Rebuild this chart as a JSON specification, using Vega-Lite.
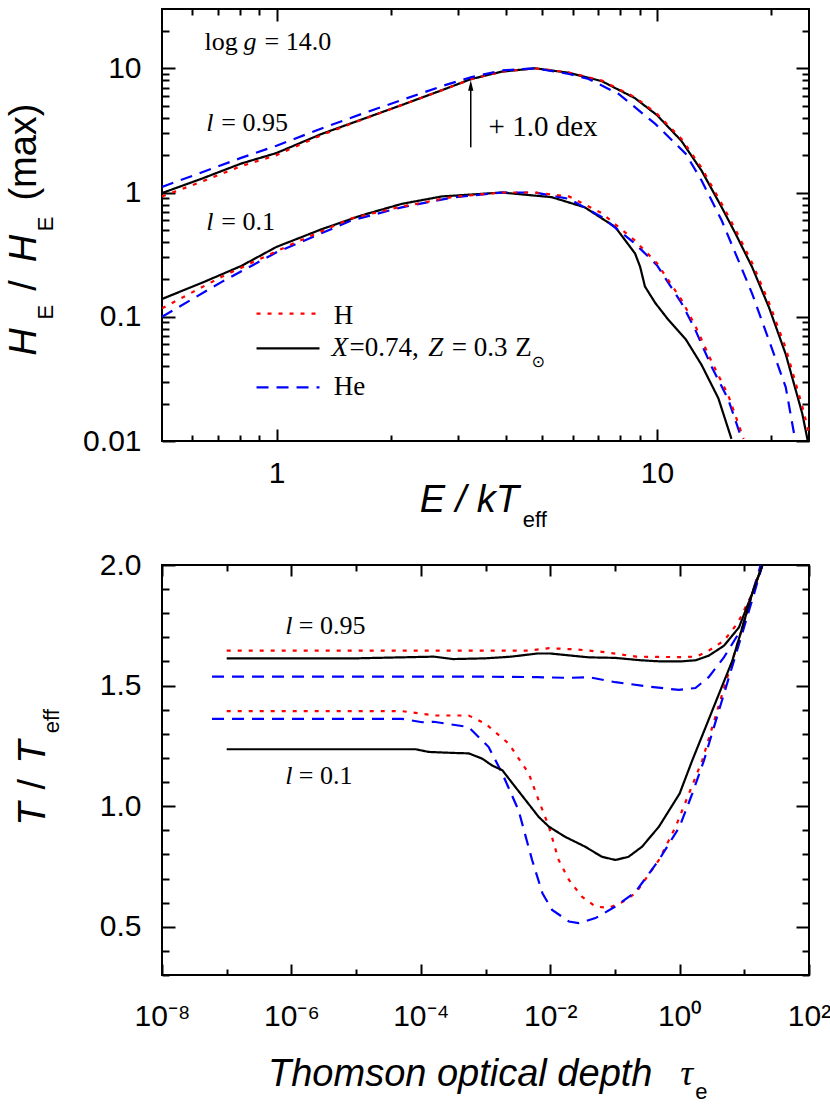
{
  "$schema": "https://vega.github.io/schema/vega-lite/v6.json",
  "padding": {"left": 5, "top": 7, "right": 5, "bottom": 5},
  "background": "white",
  "config": {
    "view": {"stroke": "black", "strokeWidth": 2},
    "axis": {"domain": false, "grid": false, "labelFont": "Liberation Sans", "labelFontSize": 30, "labelColor": "black", "tickColor": "black", "tickWidth": 2, "labelFlush": false, "labelOverlap": false}
  },
  "datasets": {
    "top": [
      {"x": 0.5, "y": 0.99, "s": "X", "l": "a"}, {"x": 0.635, "y": 1.29, "s": "X", "l": "a"}, {"x": 0.807, "y": 1.71, "s": "X", "l": "a"}, {"x": 1.0, "y": 2.08, "s": "X", "l": "a"}, {"x": 1.313, "y": 2.96, "s": "X", "l": "a"}, {"x": 1.674, "y": 3.87, "s": "X", "l": "a"}, {"x": 2.133, "y": 5.06, "s": "X", "l": "a"}, {"x": 2.72, "y": 6.66, "s": "X", "l": "a"}, {"x": 3.24, "y": 8.17, "s": "X", "l": "a"}, {"x": 3.91, "y": 9.4, "s": "X", "l": "a"}, {"x": 4.78, "y": 10.0, "s": "X", "l": "a"}, {"x": 5.87, "y": 9.2, "s": "X", "l": "a"}, {"x": 7.17, "y": 7.86, "s": "X", "l": "a"}, {"x": 8.75, "y": 5.75, "s": "X", "l": "a"}, {"x": 10.0, "y": 4.2, "s": "X", "l": "a"}, {"x": 11.6, "y": 2.6, "s": "X", "l": "a"}, {"x": 13.1, "y": 1.5, "s": "X", "l": "a"}, {"x": 14.8, "y": 0.76, "s": "X", "l": "a"}, {"x": 16.1, "y": 0.465, "s": "X", "l": "a"}, {"x": 17.8, "y": 0.25, "s": "X", "l": "a"}, {"x": 19.7, "y": 0.119, "s": "X", "l": "a"}, {"x": 21.8, "y": 0.05, "s": "X", "l": "a"}, {"x": 24.1, "y": 0.0166, "s": "X", "l": "a"}, {"x": 24.9, "y": 0.0101, "s": "X", "l": "a"},
      {"x": 0.5, "y": 0.93, "s": "H", "l": "a"}, {"x": 0.635, "y": 1.22, "s": "H", "l": "a"}, {"x": 0.807, "y": 1.63, "s": "H", "l": "a"}, {"x": 1.0, "y": 2.0, "s": "H", "l": "a"}, {"x": 1.313, "y": 2.9, "s": "H", "l": "a"}, {"x": 1.674, "y": 3.85, "s": "H", "l": "a"}, {"x": 2.133, "y": 5.05, "s": "H", "l": "a"}, {"x": 2.72, "y": 6.65, "s": "H", "l": "a"}, {"x": 3.24, "y": 8.15, "s": "H", "l": "a"}, {"x": 3.91, "y": 9.4, "s": "H", "l": "a"}, {"x": 4.78, "y": 10.0, "s": "H", "l": "a"}, {"x": 5.87, "y": 9.25, "s": "H", "l": "a"}, {"x": 7.17, "y": 7.95, "s": "H", "l": "a"}, {"x": 8.75, "y": 5.85, "s": "H", "l": "a"}, {"x": 10.0, "y": 4.3, "s": "H", "l": "a"}, {"x": 11.6, "y": 2.7, "s": "H", "l": "a"}, {"x": 13.1, "y": 1.58, "s": "H", "l": "a"}, {"x": 14.8, "y": 0.81, "s": "H", "l": "a"}, {"x": 16.1, "y": 0.5, "s": "H", "l": "a"}, {"x": 17.8, "y": 0.27, "s": "H", "l": "a"}, {"x": 19.7, "y": 0.13, "s": "H", "l": "a"}, {"x": 21.8, "y": 0.056, "s": "H", "l": "a"}, {"x": 24.1, "y": 0.019, "s": "H", "l": "a"}, {"x": 25.1, "y": 0.0115, "s": "H", "l": "a"},
      {"x": 0.5, "y": 1.11, "s": "He", "l": "a"}, {"x": 0.635, "y": 1.45, "s": "He", "l": "a"}, {"x": 0.807, "y": 1.9, "s": "He", "l": "a"}, {"x": 1.0, "y": 2.38, "s": "He", "l": "a"}, {"x": 1.313, "y": 3.28, "s": "He", "l": "a"}, {"x": 1.674, "y": 4.29, "s": "He", "l": "a"}, {"x": 2.133, "y": 5.55, "s": "He", "l": "a"}, {"x": 2.72, "y": 7.18, "s": "He", "l": "a"}, {"x": 3.24, "y": 8.45, "s": "He", "l": "a"}, {"x": 3.91, "y": 9.6, "s": "He", "l": "a"}, {"x": 4.78, "y": 10.0, "s": "He", "l": "a"}, {"x": 5.87, "y": 9.0, "s": "He", "l": "a"}, {"x": 6.61, "y": 8.2, "s": "He", "l": "a"}, {"x": 7.93, "y": 6.22, "s": "He", "l": "a"}, {"x": 9.9, "y": 3.57, "s": "He", "l": "a"}, {"x": 11.9, "y": 2.05, "s": "He", "l": "a"}, {"x": 13.1, "y": 1.25, "s": "He", "l": "a"}, {"x": 14.8, "y": 0.595, "s": "He", "l": "a"}, {"x": 16.1, "y": 0.321, "s": "He", "l": "a"}, {"x": 17.8, "y": 0.153, "s": "He", "l": "a"}, {"x": 19.7, "y": 0.0645, "s": "He", "l": "a"}, {"x": 21.8, "y": 0.0272, "s": "He", "l": "a"}, {"x": 23.1, "y": 0.0101, "s": "He", "l": "a"},
      {"x": 0.5, "y": 0.139, "s": "X", "l": "b"}, {"x": 0.635, "y": 0.187, "s": "X", "l": "b"}, {"x": 0.807, "y": 0.256, "s": "X", "l": "b"}, {"x": 1.0, "y": 0.365, "s": "X", "l": "b"}, {"x": 1.313, "y": 0.506, "s": "X", "l": "b"}, {"x": 1.674, "y": 0.655, "s": "X", "l": "b"}, {"x": 2.133, "y": 0.81, "s": "X", "l": "b"}, {"x": 2.72, "y": 0.93, "s": "X", "l": "b"}, {"x": 3.91, "y": 1.0, "s": "X", "l": "b"}, {"x": 5.29, "y": 0.917, "s": "X", "l": "b"}, {"x": 6.46, "y": 0.76, "s": "X", "l": "b"}, {"x": 7.77, "y": 0.527, "s": "X", "l": "b"}, {"x": 8.76, "y": 0.323, "s": "X", "l": "b"}, {"x": 9.03, "y": 0.253, "s": "X", "l": "b"}, {"x": 9.3, "y": 0.175, "s": "X", "l": "b"}, {"x": 9.9, "y": 0.129, "s": "X", "l": "b"}, {"x": 10.7, "y": 0.095, "s": "X", "l": "b"}, {"x": 11.9, "y": 0.066, "s": "X", "l": "b"}, {"x": 13.1, "y": 0.041, "s": "X", "l": "b"}, {"x": 14.5, "y": 0.0221, "s": "X", "l": "b"}, {"x": 15.7, "y": 0.0104, "s": "X", "l": "b"},
      {"x": 0.5, "y": 0.1, "s": "He", "l": "b"}, {"x": 0.716, "y": 0.19, "s": "He", "l": "b"}, {"x": 1.0, "y": 0.33, "s": "He", "l": "b"}, {"x": 1.575, "y": 0.596, "s": "He", "l": "b"}, {"x": 2.133, "y": 0.76, "s": "He", "l": "b"}, {"x": 2.89, "y": 0.91, "s": "He", "l": "b"}, {"x": 3.91, "y": 1.0, "s": "He", "l": "b"}, {"x": 4.78, "y": 1.0, "s": "He", "l": "b"}, {"x": 5.87, "y": 0.89, "s": "He", "l": "b"}, {"x": 7.17, "y": 0.634, "s": "He", "l": "b"}, {"x": 8.76, "y": 0.388, "s": "He", "l": "b"}, {"x": 10.0, "y": 0.26, "s": "He", "l": "b"}, {"x": 11.6, "y": 0.129, "s": "He", "l": "b"}, {"x": 12.6, "y": 0.079, "s": "He", "l": "b"}, {"x": 13.9, "y": 0.04, "s": "He", "l": "b"}, {"x": 15.4, "y": 0.0216, "s": "He", "l": "b"}, {"x": 16.7, "y": 0.0104, "s": "He", "l": "b"},
      {"x": 0.5, "y": 0.117, "s": "H", "l": "b"}, {"x": 0.716, "y": 0.209, "s": "H", "l": "b"}, {"x": 1.095, "y": 0.383, "s": "H", "l": "b"}, {"x": 1.575, "y": 0.62, "s": "H", "l": "b"}, {"x": 2.133, "y": 0.77, "s": "H", "l": "b"}, {"x": 2.89, "y": 0.92, "s": "H", "l": "b"}, {"x": 3.91, "y": 1.0, "s": "H", "l": "b"}, {"x": 4.78, "y": 1.0, "s": "H", "l": "b"}, {"x": 5.87, "y": 0.93, "s": "H", "l": "b"}, {"x": 7.17, "y": 0.68, "s": "H", "l": "b"}, {"x": 8.76, "y": 0.41, "s": "H", "l": "b"}, {"x": 10.0, "y": 0.27, "s": "H", "l": "b"}, {"x": 11.6, "y": 0.137, "s": "H", "l": "b"}, {"x": 12.6, "y": 0.085, "s": "H", "l": "b"}, {"x": 13.9, "y": 0.044, "s": "H", "l": "b"}, {"x": 15.4, "y": 0.0233, "s": "H", "l": "b"}, {"x": 16.9, "y": 0.0104, "s": "H", "l": "b"}
    ],
    "bot": [
      {"x": 1e-7, "y": 1.645, "s": "H", "l": "a"}, {"x": 1e-5, "y": 1.645, "s": "H", "l": "a"}, {"x": 1e-3, "y": 1.645, "s": "H", "l": "a"}, {"x": 4.68e-3, "y": 1.645, "s": "H", "l": "a"}, {"x": 9.55e-3, "y": 1.655, "s": "H", "l": "a"}, {"x": 0.0251, "y": 1.65, "s": "H", "l": "a"}, {"x": 0.0631, "y": 1.64, "s": "H", "l": "a"}, {"x": 0.214, "y": 1.62, "s": "H", "l": "a"}, {"x": 1.0, "y": 1.618, "s": "H", "l": "a"}, {"x": 1.82, "y": 1.62, "s": "H", "l": "a"}, {"x": 2.818, "y": 1.645, "s": "H", "l": "a"}, {"x": 4.842, "y": 1.686, "s": "H", "l": "a"}, {"x": 7.943, "y": 1.76, "s": "H", "l": "a"}, {"x": 13.18, "y": 1.88, "s": "H", "l": "a"}, {"x": 19.05, "y": 2.0, "s": "H", "l": "a"},
      {"x": 1e-7, "y": 1.613, "s": "X", "l": "a"}, {"x": 1e-5, "y": 1.613, "s": "X", "l": "a"}, {"x": 1.58e-4, "y": 1.62, "s": "X", "l": "a"}, {"x": 3.16e-4, "y": 1.61, "s": "X", "l": "a"}, {"x": 1e-3, "y": 1.613, "s": "X", "l": "a"}, {"x": 2.51e-3, "y": 1.62, "s": "X", "l": "a"}, {"x": 6.31e-3, "y": 1.633, "s": "X", "l": "a"}, {"x": 0.01, "y": 1.633, "s": "X", "l": "a"}, {"x": 0.02, "y": 1.625, "s": "X", "l": "a"}, {"x": 0.0398, "y": 1.617, "s": "X", "l": "a"}, {"x": 0.1, "y": 1.615, "s": "X", "l": "a"}, {"x": 0.251, "y": 1.605, "s": "X", "l": "a"}, {"x": 0.525, "y": 1.6, "s": "X", "l": "a"}, {"x": 1.0, "y": 1.6, "s": "X", "l": "a"}, {"x": 1.778, "y": 1.605, "s": "X", "l": "a"}, {"x": 2.818, "y": 1.624, "s": "X", "l": "a"}, {"x": 4.842, "y": 1.665, "s": "X", "l": "a"}, {"x": 8.26, "y": 1.741, "s": "X", "l": "a"}, {"x": 13.18, "y": 1.88, "s": "X", "l": "a"}, {"x": 19.05, "y": 2.0, "s": "X", "l": "a"},
      {"x": 5.93e-8, "y": 1.537, "s": "He", "l": "a"}, {"x": 1e-5, "y": 1.537, "s": "He", "l": "a"}, {"x": 1e-3, "y": 1.537, "s": "He", "l": "a"}, {"x": 6.31e-3, "y": 1.535, "s": "He", "l": "a"}, {"x": 0.0195, "y": 1.532, "s": "He", "l": "a"}, {"x": 0.0398, "y": 1.535, "s": "He", "l": "a"}, {"x": 0.102, "y": 1.514, "s": "He", "l": "a"}, {"x": 0.339, "y": 1.496, "s": "He", "l": "a"}, {"x": 0.977, "y": 1.482, "s": "He", "l": "a"}, {"x": 1.758, "y": 1.49, "s": "He", "l": "a"}, {"x": 2.818, "y": 1.535, "s": "He", "l": "a"}, {"x": 4.842, "y": 1.617, "s": "He", "l": "a"}, {"x": 9.333, "y": 1.741, "s": "He", "l": "a"}, {"x": 13.18, "y": 1.88, "s": "He", "l": "a"}, {"x": 17.91, "y": 2.0, "s": "He", "l": "a"},
      {"x": 1e-7, "y": 1.394, "s": "H", "l": "b"}, {"x": 1e-5, "y": 1.394, "s": "H", "l": "b"}, {"x": 5.13e-5, "y": 1.394, "s": "H", "l": "b"}, {"x": 1.7e-4, "y": 1.376, "s": "H", "l": "b"}, {"x": 5.5e-4, "y": 1.376, "s": "H", "l": "b"}, {"x": 1e-3, "y": 1.342, "s": "H", "l": "b"}, {"x": 2.29e-3, "y": 1.259, "s": "H", "l": "b"}, {"x": 4.68e-3, "y": 1.135, "s": "H", "l": "b"}, {"x": 6.61e-3, "y": 1.025, "s": "H", "l": "b"}, {"x": 9.55e-3, "y": 0.915, "s": "H", "l": "b"}, {"x": 0.0135, "y": 0.777, "s": "H", "l": "b"}, {"x": 0.0195, "y": 0.694, "s": "H", "l": "b"}, {"x": 0.0309, "y": 0.625, "s": "H", "l": "b"}, {"x": 0.0501, "y": 0.584, "s": "H", "l": "b"}, {"x": 0.0794, "y": 0.578, "s": "H", "l": "b"}, {"x": 0.126, "y": 0.6, "s": "H", "l": "b"}, {"x": 0.209, "y": 0.639, "s": "H", "l": "b"}, {"x": 0.479, "y": 0.777, "s": "H", "l": "b"}, {"x": 0.871, "y": 0.915, "s": "H", "l": "b"}, {"x": 1.393, "y": 1.052, "s": "H", "l": "b"}, {"x": 2.239, "y": 1.19, "s": "H", "l": "b"}, {"x": 3.199, "y": 1.328, "s": "H", "l": "b"}, {"x": 4.571, "y": 1.466, "s": "H", "l": "b"}, {"x": 6.531, "y": 1.603, "s": "H", "l": "b"}, {"x": 9.333, "y": 1.741, "s": "H", "l": "b"}, {"x": 13.18, "y": 1.88, "s": "H", "l": "b"}, {"x": 19.05, "y": 2.0, "s": "H", "l": "b"},
      {"x": 5.93e-8, "y": 1.362, "s": "He", "l": "b"}, {"x": 1e-5, "y": 1.362, "s": "He", "l": "b"}, {"x": 5.13e-5, "y": 1.362, "s": "He", "l": "b"}, {"x": 1.05e-4, "y": 1.348, "s": "He", "l": "b"}, {"x": 1.58e-4, "y": 1.35, "s": "He", "l": "b"}, {"x": 5.5e-4, "y": 1.328, "s": "He", "l": "b"}, {"x": 1.12e-3, "y": 1.245, "s": "He", "l": "b"}, {"x": 1.82e-3, "y": 1.135, "s": "He", "l": "b"}, {"x": 3.24e-3, "y": 0.983, "s": "He", "l": "b"}, {"x": 5.25e-3, "y": 0.777, "s": "He", "l": "b"}, {"x": 7.59e-3, "y": 0.639, "s": "He", "l": "b"}, {"x": 0.0107, "y": 0.57, "s": "He", "l": "b"}, {"x": 0.0195, "y": 0.522, "s": "He", "l": "b"}, {"x": 0.0275, "y": 0.515, "s": "He", "l": "b"}, {"x": 0.0501, "y": 0.536, "s": "He", "l": "b"}, {"x": 0.102, "y": 0.584, "s": "He", "l": "b"}, {"x": 0.209, "y": 0.645, "s": "He", "l": "b"}, {"x": 0.479, "y": 0.777, "s": "He", "l": "b"}, {"x": 1.0, "y": 0.915, "s": "He", "l": "b"}, {"x": 1.57, "y": 1.052, "s": "He", "l": "b"}, {"x": 2.382, "y": 1.19, "s": "He", "l": "b"}, {"x": 3.396, "y": 1.328, "s": "He", "l": "b"}, {"x": 4.853, "y": 1.466, "s": "He", "l": "b"}, {"x": 6.918, "y": 1.603, "s": "He", "l": "b"}, {"x": 9.886, "y": 1.741, "s": "He", "l": "b"}, {"x": 14.13, "y": 1.88, "s": "He", "l": "b"}, {"x": 19.05, "y": 2.0, "s": "He", "l": "b"},
      {"x": 1e-7, "y": 1.236, "s": "X", "l": "b"}, {"x": 1e-5, "y": 1.236, "s": "X", "l": "b"}, {"x": 8.32e-5, "y": 1.236, "s": "X", "l": "b"}, {"x": 1.32e-4, "y": 1.225, "s": "X", "l": "b"}, {"x": 3.02e-4, "y": 1.221, "s": "X", "l": "b"}, {"x": 5.5e-4, "y": 1.219, "s": "X", "l": "b"}, {"x": 8.91e-4, "y": 1.197, "s": "X", "l": "b"}, {"x": 1.26e-3, "y": 1.169, "s": "X", "l": "b"}, {"x": 1.82e-3, "y": 1.149, "s": "X", "l": "b"}, {"x": 2.88e-3, "y": 1.08, "s": "X", "l": "b"}, {"x": 4.17e-3, "y": 1.025, "s": "X", "l": "b"}, {"x": 6.61e-3, "y": 0.956, "s": "X", "l": "b"}, {"x": 9.55e-3, "y": 0.915, "s": "X", "l": "b"}, {"x": 0.017, "y": 0.873, "s": "X", "l": "b"}, {"x": 0.0347, "y": 0.832, "s": "X", "l": "b"}, {"x": 0.0631, "y": 0.79, "s": "X", "l": "b"}, {"x": 0.102, "y": 0.777, "s": "X", "l": "b"}, {"x": 0.162, "y": 0.79, "s": "X", "l": "b"}, {"x": 0.263, "y": 0.832, "s": "X", "l": "b"}, {"x": 0.479, "y": 0.915, "s": "X", "l": "b"}, {"x": 1.0, "y": 1.052, "s": "X", "l": "b"}, {"x": 1.57, "y": 1.19, "s": "X", "l": "b"}, {"x": 2.529, "y": 1.328, "s": "X", "l": "b"}, {"x": 4.064, "y": 1.466, "s": "X", "l": "b"}, {"x": 6.531, "y": 1.603, "s": "X", "l": "b"}, {"x": 9.333, "y": 1.741, "s": "X", "l": "b"}, {"x": 13.18, "y": 1.88, "s": "X", "l": "b"}, {"x": 19.05, "y": 2.0, "s": "X", "l": "b"}
    ],
    "topleg": [
      {"x": 0.886, "y": 0.106, "s": "H"}, {"x": 1.297, "y": 0.106, "s": "H"},
      {"x": 0.886, "y": 0.0556, "s": "X"}, {"x": 1.297, "y": 0.0556, "s": "X"},
      {"x": 0.886, "y": 0.027, "s": "He"}, {"x": 1.297, "y": 0.027, "s": "He"}
    ],
    "arrow": [{"x": 3.24, "y": 2.31}, {"x": 3.24, "y": 6.9}],
    "arrowhead": [{"x": 3.24, "y": 7.26}],
    "t_serif": [{"x": 0.647, "y": 14.06, "t": "log"}, {"x": 0.93, "y": 14.06, "t": "= 14.0"}, {"x": 0.716, "y": 3.15, "t": "= 0.95"}, {"x": 0.716, "y": 0.495, "t": "= 0.1"}],
    "t_serif_it": [{"x": 0.819, "y": 14.06, "t": "g"}, {"x": 0.654, "y": 3.15, "t": "l"}, {"x": 0.654, "y": 0.495, "t": "l"}],
    "t_dex": [{"x": 3.61, "y": 2.875, "t": "+ 1.0 dex"}],
    "t_leg": [{"x": 1.413, "y": 0.0878, "t": "H"}, {"x": 1.556, "y": 0.048, "t": "=0.74,"}, {"x": 2.888, "y": 0.048, "t": "= 0.3"}, {"x": 4.24, "y": 0.048, "t": "Z"}, {"x": 1.413, "y": 0.0233, "t": "He"}],
    "t_leg_it": [{"x": 1.395, "y": 0.048, "t": "X"}, {"x": 2.507, "y": 0.048, "t": "Z"}],
    "t_leg_sub": [{"x": 4.68, "y": 0.0392, "t": "⊙"}],
    "t_ytit_it": [{"x": 0.2336, "y": 0.0627, "t": "H"}, {"x": 0.2336, "y": 0.354, "t": "H"}],
    "t_ytit": [{"x": 0.2336, "y": 0.1786, "t": "/"}, {"x": 0.2336, "y": 2.118, "t": "(max)"}],
    "t_ytit_sub": [{"x": 0.2588, "y": 0.109, "t": "E"}, {"x": 0.2588, "y": 0.558, "t": "E"}],
    "t_xtit": [{"x": 2.378, "y": 0.002665, "t": "E / kT"}],
    "t_xtit_sub": [{"x": 4.441, "y": 0.002018, "t": "eff"}],
    "b_l_it": [{"x": 8.07e-7, "y": 1.715, "t": "l"}, {"x": 8.07e-7, "y": 1.091, "t": "l"}],
    "b_l": [{"x": 1.3e-6, "y": 1.715, "t": "= 0.95"}, {"x": 1.3e-6, "y": 1.091, "t": "= 0.1"}],
    "b_ytit_it": [{"x": 1.55e-10, "y": 0.967, "t": "T"}, {"x": 1.55e-10, "y": 1.224, "t": "T"}],
    "b_ytit": [{"x": 1.55e-10, "y": 1.091, "t": "/"}],
    "b_ytit_sub": [{"x": 2.55e-10, "y": 1.352, "t": "eff"}],
    "b_xtit": [{"x": 4.35e-7, "y": -0.16, "t": "Thomson optical depth"}],
    "b_tau": [{"x": 1.023, "y": -0.155, "t": "τ"}],
    "b_tau_sub": [{"x": 1.746, "y": -0.215, "t": "e"}]
  },
  "spacing": 124,
  "bounds": "flush",
  "vconcat": [
    {
      "width": 647,
      "height": 432,
      "encoding": {
        "x": {"field": "x", "type": "quantitative", "scale": {"type": "log", "domain": [0.5, 25.1], "nice": false}, "axis": null},
        "y": {"field": "y", "type": "quantitative", "scale": {"type": "log", "domain": [0.01, 30], "nice": false}, "axis": null}
      },
      "layer": [
        {
          "data": {"name": "top"},
          "mark": {"type": "line", "clip": true, "strokeWidth": 2.2},
          "encoding": {
            "x": {"field": "x", "type": "quantitative", "title": null, "scale": {"type": "log", "domain": [0.5, 25.1], "nice": false},
              "axis": {"orient": "bottom", "values": [0.6, 0.7, 0.8, 0.9, 1, 2, 3, 4, 5, 6, 7, 8, 9, 10, 20],
                "labelExpr": "datum.value == 1 ? '1' : datum.value == 10 ? '10' : ''",
                "tickSize": {"condition": {"test": "datum.value == 1 || datum.value == 10", "value": -12}, "value": -6},
                "labelPadding": 29}},
            "y": {"field": "y", "type": "quantitative", "title": null, "scale": {"type": "log", "domain": [0.01, 30], "nice": false},
              "axis": {"orient": "left", "values": [0.01, 0.02, 0.03, 0.04, 0.05, 0.06, 0.07, 0.08, 0.09, 0.1, 0.2, 0.3, 0.4, 0.5, 0.6, 0.7, 0.8, 0.9, 1, 2, 3, 4, 5, 6, 7, 8, 9, 10, 20],
                "labelExpr": "datum.value == 0.01 ? '0.01' : datum.value == 0.1 ? '0.1' : datum.value == 1 ? '1' : datum.value == 10 ? '10' : ''",
                "tickSize": {"condition": {"test": "datum.value == 0.01 || datum.value == 0.1 || datum.value == 1 || datum.value == 10", "value": -13}, "value": -7},
                "labelPadding": 34}},
            "color": {"field": "s", "type": "nominal", "scale": {"domain": ["H", "X", "He"], "range": ["#ff0000", "#000000", "#0000ff"]}, "legend": null},
            "strokeDash": {"field": "s", "type": "nominal", "scale": {"domain": ["H", "X", "He"], "range": [[4, 7], [1, 0], [12, 8]]}, "legend": null},
            "detail": {"field": "l", "type": "nominal"}
          }
        },
        {
          "data": {"name": "topleg"},
          "mark": {"type": "line", "strokeWidth": 2.2},
          "encoding": {
            "x": {"field": "x", "type": "quantitative", "title": null, "scale": {"type": "log", "domain": [0.5, 25.1], "nice": false},
              "axis": {"orient": "top", "labels": false, "values": [0.6, 0.7, 0.8, 0.9, 1, 2, 3, 4, 5, 6, 7, 8, 9, 10, 20],
                "tickSize": {"condition": {"test": "datum.value == 1 || datum.value == 10", "value": -12}, "value": -6}}},
            "y": {"field": "y", "type": "quantitative", "title": null, "scale": {"type": "log", "domain": [0.01, 30], "nice": false},
              "axis": {"orient": "right", "labels": false, "values": [0.01, 0.02, 0.03, 0.04, 0.05, 0.06, 0.07, 0.08, 0.09, 0.1, 0.2, 0.3, 0.4, 0.5, 0.6, 0.7, 0.8, 0.9, 1, 2, 3, 4, 5, 6, 7, 8, 9, 10, 20],
                "tickSize": {"condition": {"test": "datum.value == 0.01 || datum.value == 0.1 || datum.value == 1 || datum.value == 10", "value": -13}, "value": -7}}},
            "color": {"field": "s", "type": "nominal", "scale": {"domain": ["H", "X", "He"], "range": ["#ff0000", "#000000", "#0000ff"]}, "legend": null},
            "strokeDash": {"field": "s", "type": "nominal", "scale": {"domain": ["H", "X", "He"], "range": [[4, 7], [1, 0], [12, 8]]}, "legend": null}
          }
        },
        {"data": {"name": "arrow"}, "mark": {"type": "line", "color": "black", "strokeWidth": 1.5}, "encoding": {}},
        {"data": {"name": "arrowhead"}, "mark": {"type": "point", "shape": "M0,-1L0.5,1L-0.5,1Z", "filled": true, "size": 110, "color": "black", "opacity": 1}},
        {"data": {"name": "t_serif"}, "mark": {"type": "text", "font": "Liberation Serif", "fontSize": 26, "align": "left", "baseline": "alphabetic", "color": "black"}, "encoding": {"text": {"field": "t"}}},
        {"data": {"name": "t_serif_it"}, "mark": {"type": "text", "font": "Liberation Serif", "fontSize": 26, "fontStyle": "italic", "align": "left", "baseline": "alphabetic", "color": "black"}, "encoding": {"text": {"field": "t"}}},
        {"data": {"name": "t_dex"}, "mark": {"type": "text", "font": "Liberation Serif", "fontSize": 29, "align": "left", "baseline": "alphabetic", "color": "black"}, "encoding": {"text": {"field": "t"}}},
        {"data": {"name": "t_leg"}, "mark": {"type": "text", "font": "Liberation Serif", "fontSize": 27, "align": "left", "baseline": "alphabetic", "color": "black"}, "encoding": {"text": {"field": "t"}}},
        {"data": {"name": "t_leg_it"}, "mark": {"type": "text", "font": "Liberation Serif", "fontSize": 27, "fontStyle": "italic", "align": "left", "baseline": "alphabetic", "color": "black"}, "encoding": {"text": {"field": "t"}}},
        {"data": {"name": "t_leg_sub"}, "mark": {"type": "text", "font": "DejaVu Sans", "fontSize": 16, "align": "left", "baseline": "alphabetic", "color": "black"}, "encoding": {"text": {"field": "t"}}},
        {"data": {"name": "t_ytit_it"}, "mark": {"type": "text", "font": "Liberation Sans", "fontSize": 38, "fontStyle": "italic", "angle": 270, "align": "center", "baseline": "alphabetic", "color": "black"}, "encoding": {"text": {"field": "t"}}},
        {"data": {"name": "t_ytit"}, "mark": {"type": "text", "font": "Liberation Sans", "fontSize": 38, "angle": 270, "align": "center", "baseline": "alphabetic", "color": "black"}, "encoding": {"text": {"field": "t"}}},
        {"data": {"name": "t_ytit_sub"}, "mark": {"type": "text", "font": "Liberation Sans", "fontSize": 22, "angle": 270, "align": "center", "baseline": "alphabetic", "color": "black"}, "encoding": {"text": {"field": "t"}}},
        {"data": {"name": "t_xtit"}, "mark": {"type": "text", "font": "Liberation Sans", "fontSize": 38, "fontStyle": "italic", "align": "left", "baseline": "alphabetic", "color": "black"}, "encoding": {"text": {"field": "t"}}},
        {"data": {"name": "t_xtit_sub"}, "mark": {"type": "text", "font": "Liberation Sans", "fontSize": 22, "align": "left", "baseline": "alphabetic", "color": "black"}, "encoding": {"text": {"field": "t"}}}
      ],
      "resolve": {"axis": {"x": "independent", "y": "independent"}}
    },
    {
      "width": 647,
      "height": 410,
      "encoding": {
        "x": {"field": "x", "type": "quantitative", "scale": {"type": "log", "domain": [1e-8, 100], "nice": false}, "axis": null},
        "y": {"field": "y", "type": "quantitative", "scale": {"type": "linear", "domain": [0.3, 2.0], "nice": false, "zero": false}, "axis": null}
      },
      "layer": [
        {
          "data": {"name": "bot"},
          "mark": {"type": "line", "clip": true, "strokeWidth": 2.2},
          "encoding": {
            "x": {"field": "x", "type": "quantitative", "title": null, "scale": {"type": "log", "domain": [1e-8, 100], "nice": false},
              "axis": {"orient": "bottom", "values": [1e-8, 1e-7, 1e-6, 1e-5, 1e-4, 1e-3, 0.01, 0.1, 1, 10, 100],
                "labelExpr": "['10⁻⁸','','10⁻⁶','','10⁻⁴','','10⁻²','','10⁰','','10²'][round(log(datum.value)/LN10) + 8]",
                "tickSize": {"condition": {"test": "round(log(datum.value)/LN10) % 2 == 0", "value": -11}, "value": -6},
                "labelPadding": 37}},
            "y": {"field": "y", "type": "quantitative", "title": null, "scale": {"type": "linear", "domain": [0.3, 2.0], "nice": false, "zero": false},
              "axis": {"orient": "left", "values": [0.3, 0.4, 0.5, 0.6, 0.7, 0.8, 0.9, 1.0, 1.1, 1.2, 1.3, 1.4, 1.5, 1.6, 1.7, 1.8, 1.9, 2.0],
                "labelExpr": "datum.value == 0.5 ? '0.5' : datum.value == 1 ? '1.0' : datum.value == 1.5 ? '1.5' : datum.value == 2 ? '2.0' : ''",
                "tickSize": {"condition": {"test": "datum.value == 0.5 || datum.value == 1 || datum.value == 1.5 || datum.value == 2", "value": -13}, "value": -7},
                "labelPadding": 34}},
            "color": {"field": "s", "type": "nominal", "scale": {"domain": ["H", "X", "He"], "range": ["#ff0000", "#000000", "#0000ff"]}, "legend": null},
            "strokeDash": {"field": "s", "type": "nominal", "scale": {"domain": ["H", "X", "He"], "range": [[4, 7], [1, 0], [12, 8]]}, "legend": null},
            "detail": {"field": "l", "type": "nominal"}
          }
        },
        {"data": {"name": "b_l_it"}, "mark": {"type": "text", "font": "Liberation Serif", "fontSize": 26, "fontStyle": "italic", "align": "left", "baseline": "alphabetic", "color": "black"},
          "encoding": {
            "x": {"field": "x", "type": "quantitative", "title": null, "scale": {"type": "log", "domain": [1e-8, 100], "nice": false},
              "axis": {"orient": "top", "labels": false, "values": [1e-8, 1e-7, 1e-6, 1e-5, 1e-4, 1e-3, 0.01, 0.1, 1, 10, 100],
                "tickSize": {"condition": {"test": "round(log(datum.value)/LN10) % 2 == 0", "value": -11}, "value": -6}}},
            "y": {"field": "y", "type": "quantitative", "title": null, "scale": {"type": "linear", "domain": [0.3, 2.0], "nice": false, "zero": false},
              "axis": {"orient": "right", "labels": false, "values": [0.3, 0.4, 0.5, 0.6, 0.7, 0.8, 0.9, 1.0, 1.1, 1.2, 1.3, 1.4, 1.5, 1.6, 1.7, 1.8, 1.9, 2.0],
                "tickSize": {"condition": {"test": "datum.value == 0.5 || datum.value == 1 || datum.value == 1.5 || datum.value == 2", "value": -13}, "value": -7}}},
            "text": {"field": "t"}
          }
        },
        {"data": {"name": "b_l"}, "mark": {"type": "text", "font": "Liberation Serif", "fontSize": 26, "align": "left", "baseline": "alphabetic", "color": "black"}, "encoding": {"text": {"field": "t"}}},
        {"data": {"name": "b_ytit_it"}, "mark": {"type": "text", "font": "Liberation Sans", "fontSize": 38, "fontStyle": "italic", "angle": 270, "align": "center", "baseline": "alphabetic", "color": "black"}, "encoding": {"text": {"field": "t"}}},
        {"data": {"name": "b_ytit"}, "mark": {"type": "text", "font": "Liberation Sans", "fontSize": 38, "angle": 270, "align": "center", "baseline": "alphabetic", "color": "black"}, "encoding": {"text": {"field": "t"}}},
        {"data": {"name": "b_ytit_sub"}, "mark": {"type": "text", "font": "Liberation Sans", "fontSize": 22, "angle": 270, "align": "center", "baseline": "alphabetic", "color": "black"}, "encoding": {"text": {"field": "t"}}},
        {"data": {"name": "b_xtit"}, "mark": {"type": "text", "font": "Liberation Sans", "fontSize": 38, "fontStyle": "italic", "align": "left", "baseline": "alphabetic", "color": "black"}, "encoding": {"text": {"field": "t"}}},
        {"data": {"name": "b_tau"}, "mark": {"type": "text", "font": "Liberation Serif", "fontSize": 36, "fontStyle": "italic", "align": "left", "baseline": "alphabetic", "color": "black"}, "encoding": {"text": {"field": "t"}}},
        {"data": {"name": "b_tau_sub"}, "mark": {"type": "text", "font": "Liberation Sans", "fontSize": 22, "align": "left", "baseline": "alphabetic", "color": "black"}, "encoding": {"text": {"field": "t"}}}
      ],
      "resolve": {"axis": {"x": "independent", "y": "independent"}}
    }
  ]
}
